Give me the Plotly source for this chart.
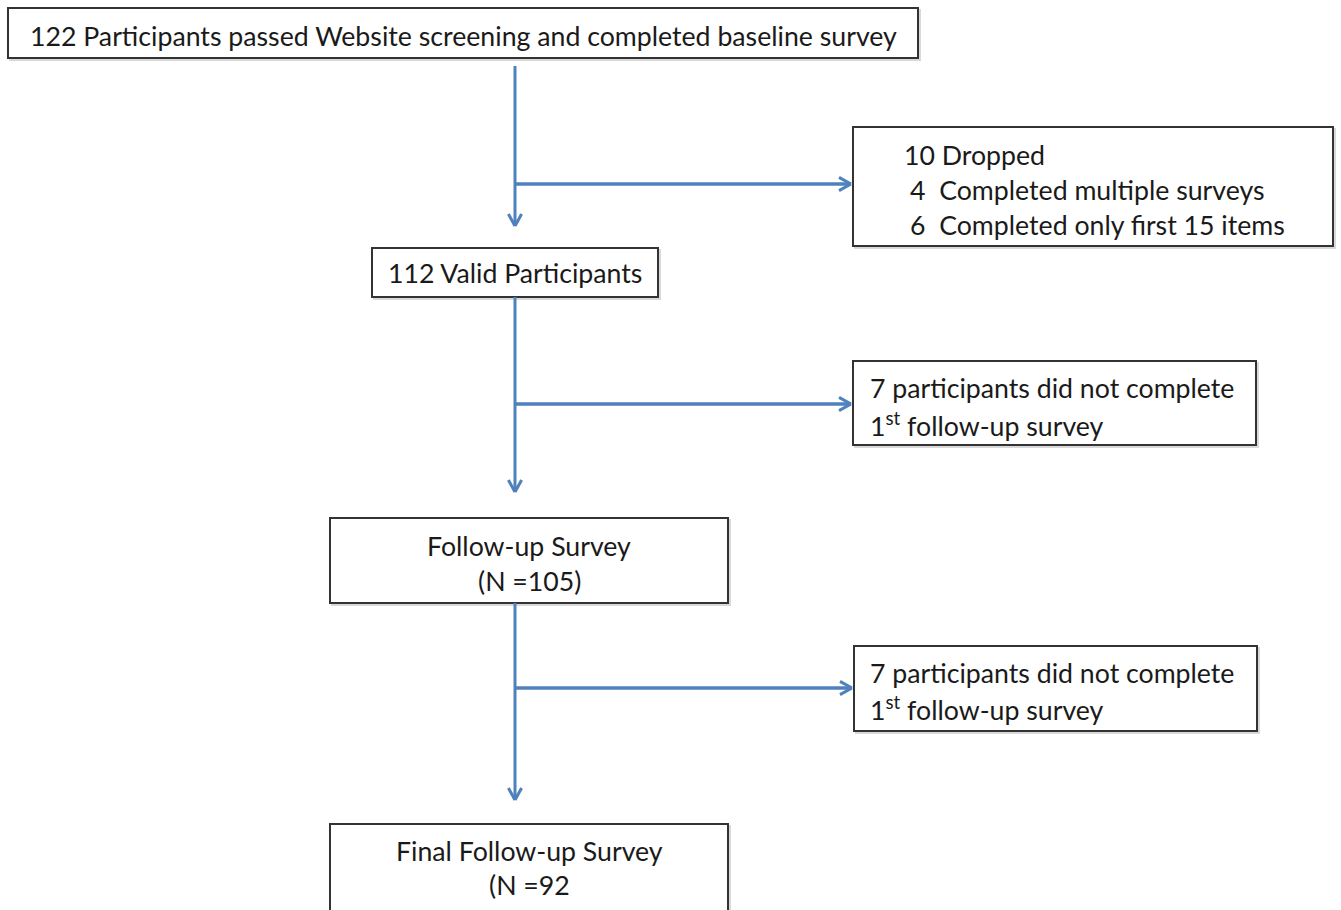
import plotly.graph_objects as go

# ---- data (flowchart content) ----
box_names = ["screened", "dropped", "valid", "lost1", "followup", "lost2", "final"]
box_texts = [
    ["122 Participants passed Website screening and completed baseline survey"],
    ["10 Dropped", "4\u00a0 Completed multiple surveys", "6\u00a0 Completed only first 15 items"],
    ["112 Valid Participants"],
    ["7 participants did not complete", "1<sup>st</sup> follow-up survey"],
    ["Follow-up Survey", "(N =105)"],
    ["7 participants did not complete", "1<sup>st</sup> follow-up survey"],
    ["Final Follow-up Survey", "(N =92"],
]
counts = [122, 10, 112, 7, 105, 7, 92]

# ---- layout geometry (pixels) ----
box_x0 = [8, 853, 372, 853, 330, 854, 330]
box_x1 = [918, 1333, 658, 1256, 728, 1257, 728]
box_y0 = [8, 127, 248, 361, 518, 646, 824]
box_y1 = [58, 246, 297, 445, 603, 731, 912]
align = ["center", "left", "center", "left", "center", "left", "center"]
text_left = [None, [902, 908, 908], None, [868, 868], None, [868, 868], None]
line_y = [[36], [155, 190, 225], [273], [388, 424], [546, 581], [673, 708], [851, 885]]

trunk_x = 515
vert_segments = [(66, 226), (297, 492), (603, 800)]
horiz_y = [184, 404, 688]
horiz_end = [851, 851, 852]

BLUE = "#4f81bd"
TXT = "#1a1a1a"
FONT = "Lato"
FS = 26.7

fig = go.Figure()
shapes = []
annotations = []

# boxes
for i in range(len(box_names)):
    shapes.append(dict(type="rect", x0=box_x0[i] + 2, x1=box_x1[i] + 2, y0=box_y0[i] + 2, y1=box_y1[i] + 2,
                       line=dict(color="rgba(0,0,0,0.15)", width=2), fillcolor="rgba(0,0,0,0)", layer="below"))
    shapes.append(dict(type="rect", x0=box_x0[i], x1=box_x1[i], y0=box_y0[i], y1=box_y1[i],
                       line=dict(color="#333333", width=2), fillcolor="white"))
    for j, t in enumerate(box_texts[i]):
        if align[i] == "center":
            annotations.append(dict(x=(box_x0[i] + box_x1[i]) / 2, y=line_y[i][j], text=t, showarrow=False,
                                    xanchor="center", yanchor="middle",
                                    font=dict(family=FONT, size=FS, color=TXT)))
        else:
            annotations.append(dict(x=text_left[i][j], y=line_y[i][j], text=t, showarrow=False,
                                    xanchor="left", yanchor="middle",
                                    font=dict(family=FONT, size=FS, color=TXT)))

# connectors
def chevron_down(x, y, s=12):
    return [dict(type="line", x0=x - s * 0.55, y0=y - s, x1=x, y1=y, line=dict(color=BLUE, width=3)),
            dict(type="line", x0=x + s * 0.55, y0=y - s, x1=x, y1=y, line=dict(color=BLUE, width=3))]

def chevron_right(x, y, s=12):
    return [dict(type="line", x0=x - s, y0=y - s * 0.55, x1=x, y1=y, line=dict(color=BLUE, width=3)),
            dict(type="line", x0=x - s, y0=y + s * 0.55, x1=x, y1=y, line=dict(color=BLUE, width=3))]

for (ya, yb) in vert_segments:
    shapes.append(dict(type="line", x0=trunk_x, x1=trunk_x, y0=ya, y1=yb, line=dict(color=BLUE, width=3)))
    shapes += chevron_down(trunk_x, yb)
for hy, hx in zip(horiz_y, horiz_end):
    shapes.append(dict(type="line", x0=trunk_x, x1=hx, y0=hy, y1=hy, line=dict(color=BLUE, width=3.5)))
    shapes += chevron_right(hx, hy)

fig.update_layout(
    width=1341, height=910,
    margin=dict(l=0, r=0, t=0, b=0),
    paper_bgcolor="white", plot_bgcolor="white",
    xaxis=dict(range=[0, 1341], visible=False, fixedrange=True),
    yaxis=dict(range=[910, 0], visible=False, fixedrange=True),
    shapes=shapes, annotations=annotations, showlegend=False,
)
fig.write_html("out.html", config={"displayModeBar": False})

# remove default page margin so the figure sits at the window origin
with open("out.html", "r", encoding="utf-8") as f:
    html = f.read()
html = html.replace("<head>", "<head><style>html,body{margin:0;padding:0;overflow:hidden;}</style>", 1)
with open("out.html", "w", encoding="utf-8") as f:
    f.write(html)
